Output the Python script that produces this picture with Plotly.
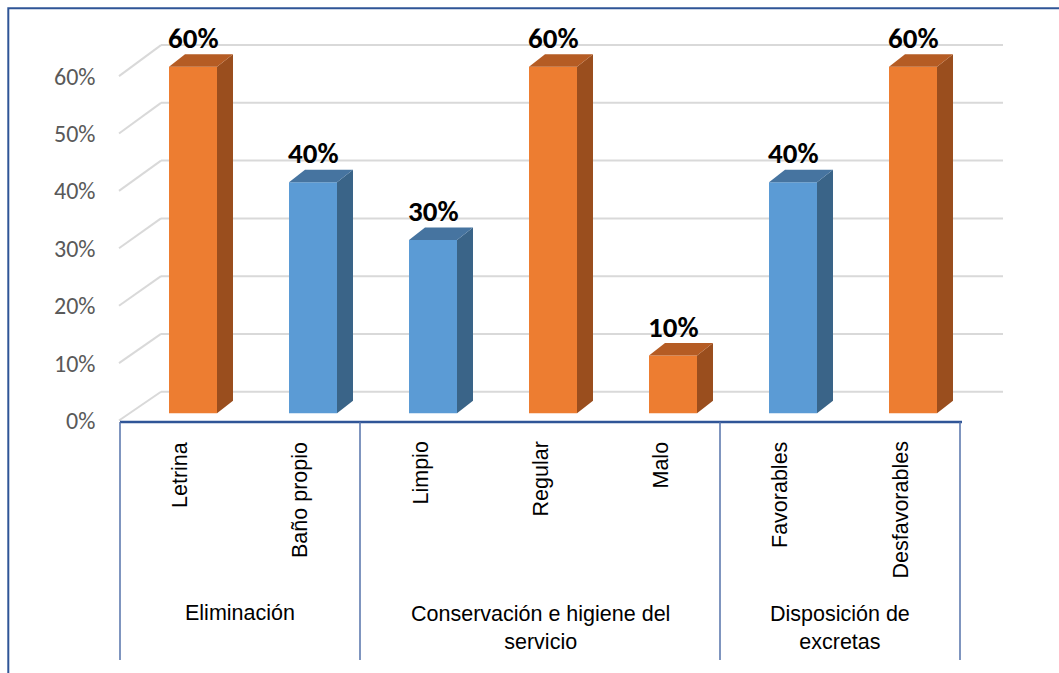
import plotly.graph_objects as go

# ---- data -------------------------------------------------------------
categories = ["Letrina", "Baño propio", "Limpio", "Regular", "Malo",
              "Favorables", "Desfavorables"]
values = [0.60, 0.40, 0.30, 0.60, 0.10, 0.40, 0.60]
tones = ["orange", "blue", "blue", "orange", "orange", "blue", "orange"]
groups = ["Eliminación", "Conservación e higiene del<br>servicio",
          "Disposición de<br>excretas"]
group_sizes = [2, 3, 2]
y_ticks = [0.0, 0.1, 0.2, 0.3, 0.4, 0.5, 0.6]

# ---- styling ----------------------------------------------------------
W, H = 1059, 673
PALETTE = {
    "orange": {"front": "#ED7D31", "side": "#9A4E1E", "top": "#B55C24"},
    "blue": {"front": "#5B9BD5", "side": "#3A6488", "top": "#4674A0"},
}
GRID = "#D9D9D9"
AXIS_BLUE = "#2F5597"
SEP_BLUE = "#5572AA"
SANS = "Liberation Sans, Arial, sans-serif"
LABEL_FONT = "Carlito, Calibri, Lato, sans-serif"

# pixel geometry of the oblique projection
CAT_PX = 120.0           # width of one category slot
X0_PX = 180.0            # centre of the first category slot
Y0_PX = 413.3            # baseline of the bar fronts
Y_PX = 577.7             # pixels per unit of value
BAR_OFF_PX, BAR_W_PX = -11.0, 48.0
DEPTH_DX, DEPTH_DY = 16.0, 12.5
BACK_DY = 21.6           # back wall sits this far above the bar baseline


def px_x(px):
    return (px - X0_PX) / CAT_PX


def px_y(py):
    return (Y0_PX - py) / Y_PX


ddx = DEPTH_DX / CAT_PX
ddy = DEPTH_DY / Y_PX
off = BAR_OFF_PX / CAT_PX
bw = BAR_W_PX / CAT_PX

fig = go.Figure()

# front faces of the bars
for tone in ("orange", "blue"):
    idx = [i for i, t in enumerate(tones) if t == tone]
    fig.add_trace(go.Bar(
        x=idx, y=[values[i] for i in idx], base=0,
        offset=off, width=bw,
        marker=dict(color=PALETTE[tone]["front"], line=dict(width=0)),
        hoverinfo="skip", showlegend=False,
    ))

# side and top faces
for tone in ("orange", "blue"):
    sx, sy, tx, ty = [], [], [], []
    for i, (v, t) in enumerate(zip(values, tones)):
        if t != tone:
            continue
        xl = i + off
        xr = xl + bw
        sx += [xr, xr, xr + ddx, xr + ddx, xr, None]
        sy += [0, v, v + ddy, ddy, 0, None]
        tx += [xl, xr, xr + ddx, xl + ddx, xl, None]
        ty += [v, v, v + ddy, v + ddy, v, None]
    fig.add_trace(go.Scatter(x=sx, y=sy, mode="lines", fill="toself",
                             fillcolor=PALETTE[tone]["side"],
                             line=dict(width=0), hoverinfo="skip",
                             showlegend=False))
    fig.add_trace(go.Scatter(x=tx, y=ty, mode="lines", fill="toself",
                             fillcolor=PALETTE[tone]["top"],
                             line=dict(width=0), hoverinfo="skip",
                             showlegend=False))

shapes = []
annotations = []

# back wall gridlines with their oblique side-wall segments
for t in y_ticks:
    back_py = Y0_PX - BACK_DY - t * Y_PX
    front_py = 420.5 - t * 574.0
    shapes.append(dict(type="line", layer="below", xref="x", yref="y",
                       x0=px_x(119), y0=px_y(front_py),
                       x1=px_x(161), y1=px_y(back_py),
                       line=dict(color=GRID, width=2)))
    shapes.append(dict(type="line", layer="below", xref="x", yref="y",
                       x0=px_x(161), y0=px_y(back_py),
                       x1=px_x(1003), y1=px_y(back_py),
                       line=dict(color=GRID, width=2)))
    annotations.append(dict(xref="x", yref="y", x=px_x(97), y=px_y(front_py),
                            text=f"{round(t * 100)}%", showarrow=False,
                            xanchor="right", yanchor="middle",
                            font=dict(family=LABEL_FONT, size=24,
                                      color="#595959")))

# value labels above each bar
for i, v in enumerate(values):
    annotations.append(dict(xref="x", yref="y", x=i + off + bw / 2, y=v,
                            yshift=29, text=f"<b>{round(v * 100)}%</b>",
                            showarrow=False, xanchor="center",
                            yanchor="middle",
                            font=dict(family=LABEL_FONT, size=29,
                                      color="#000000")))

# category labels (rotated)
for i, c in enumerate(categories):
    annotations.append(dict(xref="x", yref="y", x=i, y=px_y(440),
                            text=c, textangle=-90, showarrow=False,
                            xanchor="center", yanchor="top",
                            font=dict(family=SANS, size=21.5,
                                      color="#000000")))

# front axis line and group separators
axis_py = 422
shapes.append(dict(type="line", xref="x", yref="y",
                   x0=-0.5, y0=px_y(axis_py),
                   x1=len(categories) - 0.5 + px_x(962) - px_x(960),
                   y1=px_y(axis_py),
                   line=dict(color=AXIS_BLUE, width=2.5)))
start = 0
bounds = [0]
for n in group_sizes:
    start += n
    bounds.append(start)
for b in bounds:
    shapes.append(dict(type="line", xref="x", yref="y",
                       x0=b - 0.5, y0=px_y(axis_py),
                       x1=b - 0.5, y1=px_y(660),
                       line=dict(color=SEP_BLUE, width=1.5)))

# group labels
for g, a, b in zip(groups, bounds[:-1], bounds[1:]):
    two_lines = "<br>" in g
    annotations.append(dict(xref="x", yref="y", x=(a + b - 1) / 2,
                            y=px_y(628 if two_lines else 613),
                            text=g, showarrow=False,
                            xanchor="center", yanchor="middle",
                            font=dict(family=SANS, size=21.5,
                                      color="#000000")))

# outer chart border
shapes.append(dict(type="rect", xref="paper", yref="paper",
                   x0=8.3 / W, y0=-0.02, x1=1.02, y1=1 - 8.3 / H,
                   line=dict(color=AXIS_BLUE, width=2)))

fig.update_layout(
    width=W, height=H,
    margin=dict(l=0, r=0, t=0, b=0),
    paper_bgcolor="white", plot_bgcolor="white",
    barmode="overlay",
    showlegend=False,
    xaxis=dict(range=[px_x(0), px_x(W)], visible=False, fixedrange=True),
    yaxis=dict(range=[px_y(H), px_y(0)], visible=False, fixedrange=True),
    shapes=shapes,
    annotations=annotations,
)

fig.write_html("out.html")
